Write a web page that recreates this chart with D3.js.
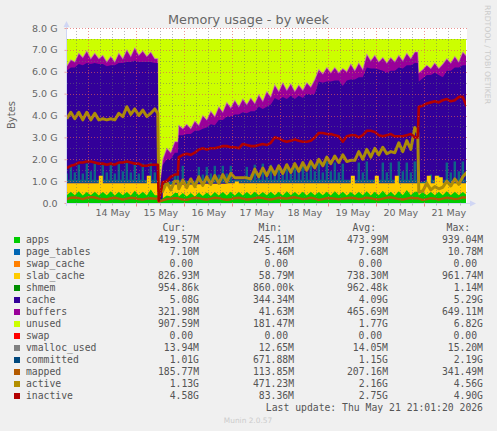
<!DOCTYPE html>
<html><head><meta charset="utf-8">
<script src="https://cdn.jsdelivr.net/npm/d3@7/dist/d3.min.js"></script>
<style>html,body{margin:0;padding:0;background:#f0f0f0}svg{display:block}</style></head>
<body><svg id="c" width="497" height="431"></svg>
<script>
// Sampled every two hours in GiB, plus one extra sample just before each sudden change
const sampleHours=[0,2,4,6,8,10,12,14,16,18,
20,22,24,26,28,30,32,34,36,38,
40,42,44,45.5,46,48,50,52,54,55.5,56,58,
60,62,64,66,68,70,72,74,76,78,
80,82,84,86,88,90,92,94,96,98,
100,102,104,106,108,110,112,114,116,118,
120,122,124,126,128,130,132,134,136,138,
140,142,144,146,148,150,152,154,156,158,
160,162,164,166,168,170,172,174,175.5,176,178,
180,182,184,186,188,190,192,194,196,198,200];
const apps=[.36,.52,.36,.54,.34,.50,.36,.52,.34,.50,
.36,.54,.34,.52,.36,.50,.34,.56,.36,.52,
.34,.62,.36,.36,.08,.22,.34,.30,.46,.46,.30,.46,
.30,.46,.30,.48,.32,.48,.32,.50,.34,.50,
.34,.52,.34,.52,.34,.50,.36,.52,.36,.50,
.36,.52,.36,.52,.34,.54,.36,.50,.36,.52,
.34,.52,.36,.50,.36,.52,.34,.54,.36,.52,
.34,.50,.36,.52,.36,.54,.34,.52,.36,.56,
.36,.52,.34,.54,.36,.60,.36,.52,.52,.36,.50,
.36,.52,.36,.52,.36,.54,.36,.52,.36,.50,.36];
const slabCache=[.54,.38,.54,.36,.56,.40,.54,.38,.91,.40,
.54,.36,.56,.38,.54,.40,.56,.34,.54,.38,
.91,.28,.54,.54,.04,.60,.50,.55,.39,.39,.55,.39,
.55,.39,.56,.38,.56,.40,.56,.38,.54,.38,
.56,.38,.64,.38,.56,.40,.54,.38,.54,.40,
.54,.38,.54,.38,.56,.36,.54,.40,.54,.38,
.56,.38,.54,.40,.54,.38,.56,.36,.54,.38,
.56,.75,.54,.38,.54,.36,.56,.73,.54,.34,
.54,.38,.91,.36,.54,.30,.54,.38,.38,.54,.40,
.89,.38,.89,.66,.54,.36,.54,.38,.54,.40,.54];
const cache=[5.15,5.30,5.30,5.45,5.40,5.50,5.45,5.50,5.10,5.45,
5.35,5.40,5.40,5.50,5.50,5.55,5.55,5.60,5.55,5.55,
5.20,5.55,5.50,5.50,.13,.93,1.16,1.15,1.45,1.45,2.25,2.25,
2.30,2.30,2.44,2.44,2.52,2.57,2.72,2.67,2.92,2.92,
3.05,3.05,3.07,3.15,3.25,3.20,3.30,3.30,3.50,3.40,
3.50,3.60,3.90,3.80,3.95,3.85,4.00,3.85,4.00,3.90,
4.10,4.05,4.10,4.65,4.60,4.65,4.65,4.70,4.70,4.45,
4.70,4.40,4.75,4.85,4.85,5.30,5.25,4.90,5.20,5.15,
5.05,5.15,4.80,5.30,5.25,5.40,5.40,5.50,5.50,4.65,4.80,
4.60,4.95,4.70,4.67,4.85,5.15,5.15,5.30,5.30,5.40,5.40];
const buffers=[.20,.35,.25,.50,.35,.55,.25,.45,.25,.40,
.20,.40,.15,.45,.20,.55,.25,.60,.30,.50,
.25,.45,.20,.20,.05,.25,.50,.30,.50,.50,.45,.30,
.45,.25,.45,.25,.60,.35,.60,.40,.60,.35,
.65,.40,.65,.35,.60,.40,.60,.35,.55,.35,
.70,.35,.60,.40,.65,.40,.55,.35,.50,.35,
.50,.35,.65,.55,.40,.65,.40,.60,.35,.80,
.40,.70,.40,.65,.35,.60,.35,.60,.35,.60,
.45,.60,.40,.55,.35,.55,.30,.50,.50,.40,.40,
.45,.30,.45,.30,.60,.55,.35,.50,.25,.60,.40];
const unused=[1.25,.95,1.05,.65,.85,.55,.90,.65,.90,.75,
1.05,.80,1.05,.65,.90,.50,.80,.40,.75,.55,
.80,.60,.90,.90,7.20,5.50,5.00,5.20,4.70,4.70,3.95,4.10,
3.90,4.10,3.75,3.95,3.50,3.70,3.30,3.55,3.10,3.35,
2.90,3.15,2.80,3.10,2.75,3.00,2.70,2.95,2.55,2.85,
2.40,2.65,2.10,2.40,2.00,2.35,2.05,2.40,2.10,2.35,
2.00,2.20,1.85,1.40,1.60,1.30,1.55,1.30,1.55,1.35,
1.50,1.15,1.45,1.10,1.40,.70,1.00,.75,1.05,.85,
1.10,.85,1.05,.75,1.00,.65,.90,.60,.60,1.55,1.40,
1.20,1.35,1.10,1.35,1.15,.90,1.10,.80,1.05,.60,.80];
const committed=[1.35,1.7,1.4,1.75,1.35,1.8,1.45,1.8,.98,1.75,
1.4,1.8,1.35,1.8,1.45,1.85,1.4,1.85,1.35,1.8,
.98,1.85,1.4,1.0,.7,.75,.9,.9,1.35,1.35,.95,1.7,
.95,.95,.95,1.65,1.3,1.65,1.35,1.7,1.3,1.7,
1.35,1.7,1.0,1.0,1.0,1.65,1.3,1.75,1.35,1.8,
1.4,1.75,1.35,1.75,1.4,1.75,1.35,1.8,1.45,1.8,
1.4,1.85,1.45,1.85,1.4,1.9,1.45,1.85,1.4,1.8,
1.0,1.0,1.0,1.85,1.4,1.9,1.0,1.0,1.0,1.85,
1.4,1.85,1.0,1.9,1.45,1.85,1.4,1.9,1.9,.85,.9,
.98,1.3,.98,1.25,1.0,1.85,1.4,1.9,1.45,1.9,1.4];
const mapped=[.18,.24,.25,.22,.18,.24,.27,.25,.20,.19,
.16,.22,.24,.20,.16,.20,.24,.22,.18,.16,
.20,.22,.20,.20,.05,.12,.18,.20,.22,.22,.20,.16,
.15,.20,.24,.22,.18,.16,.20,.24,.22,.18,
.15,.18,.22,.24,.20,.16,.18,.22,.25,.22,
.18,.16,.20,.24,.22,.20,.24,.26,.22,.18,
.20,.24,.20,.14,.18,.22,.22,.20,.17,.20,
.22,.24,.22,.18,.20,.24,.22,.18,.16,.20,
.24,.26,.22,.18,.16,.20,.24,.22,.22,.20,.14,
.18,.22,.20,.16,.20,.24,.22,.18,.20,.26,.24];
const active=[3.85,4.15,3.85,4.15,3.80,4.15,3.80,4.10,3.80,3.85,
3.80,3.85,3.80,4.10,3.95,4.40,4.05,4.30,4.00,4.25,
3.95,4.10,4.30,4.10,.50,.55,.95,.60,1.00,1.00,.65,1.05,
.70,1.10,.75,1.20,.80,1.20,.85,1.25,.90,1.30,
.95,1.35,1.15,1.15,1.15,1.15,1.10,1.55,1.20,1.60,
1.25,1.65,1.30,1.70,1.35,1.75,1.40,1.80,1.45,1.85,
1.50,1.90,1.60,2.00,1.70,2.10,1.80,2.15,1.85,2.20,
1.90,1.95,1.95,2.35,2.00,2.45,2.10,2.50,2.20,2.55,
2.25,2.35,2.30,2.75,2.35,2.85,2.45,3.45,3.20,.50,.55,
.90,.60,.75,.65,.72,1.00,.78,1.10,.85,1.20,1.40];
const inactive=[1.60,1.70,1.75,1.85,1.85,1.90,1.90,1.85,1.80,1.80,
1.75,1.80,1.75,1.85,1.85,1.90,1.85,1.80,1.80,1.70,
1.70,1.75,1.75,1.75,.10,.95,1.00,1.20,1.30,1.30,2.10,2.20,
2.25,2.20,2.30,2.45,2.50,2.45,2.50,2.50,2.55,2.60,
2.60,2.55,2.55,2.50,2.70,2.65,2.60,2.60,2.65,2.70,
2.65,2.75,3.00,2.95,2.85,2.80,2.85,2.90,2.85,2.80,
2.80,2.85,3.00,3.20,3.20,3.15,3.15,3.10,3.05,2.80,
3.05,3.10,3.10,3.00,3.10,3.30,3.30,3.25,3.10,3.05,
3.10,3.15,3.05,3.05,3.05,3.10,3.15,3.00,3.00,4.40,4.45,
4.55,4.60,4.65,4.60,4.70,4.75,4.65,4.70,4.85,4.85,4.40];

const legendNames=["apps","page_tables","swap_cache","slab_cache","shmem","cache","buffers","unused","swap","vmalloc_used","committed","mapped","active","inactive"];
const legendColors=["#00cc00","#0066b3","#ff8000","#ffcc00","#008f00","#330099","#990099","#ccff00","#ff0000","#808080","#00487d","#b35a00","#b38f00","#b30000"];
const curValues=["419.57M","7.10M","0.00","826.93M","954.86k","5.08G","321.98M","907.59M","0.00","13.94M","1.01G","185.77M","1.13G","4.58G"];
const minValues=["245.11M","5.46M","0.00","58.79M","860.00k","344.34M","41.63M","181.47M","0.00","12.65M","671.88M","113.85M","471.23M","83.36M"];
const avgValues=["473.99M","7.68M","0.00","738.30M","962.48k","4.09G","465.69M","1.77G","0.00","14.05M","1.15G","207.16M","2.16G","2.75G"];
const maxValues=["939.04M","10.78M","0.00","961.74M","1.14M","5.29G","649.11M","6.82G","0.00","15.20M","2.19G","341.49M","4.56G","4.90G"];
const columnHeads=["Cur:","Min:","Avg:","Max:"];
const yMajor=[0,1,2,3,4,5,6,7,8];
const yMinor=[.5,1.5,2.5,3.5,4.5,5.5,6.5,7.5];
const dayLabels=["14 May","15 May","16 May","17 May","18 May","19 May","20 May","21 May"];

const svg=d3.select("#c");
const sans="'DejaVu Sans',sans-serif", mono="'DejaVu Sans Mono',monospace";
const L=67,R=466,T=28,B=203;
const t0=Date.UTC(2026,4,13,13,15),t1=Date.UTC(2026,4,21,21,15);
const x=d3.scaleUtc().domain([t0,t1]).range([66.8,466.8]);
const y=d3.scaleLinear().domain([0,8]).range([B,T]);
const HOUR=36e5;
const times=sampleHours.map(h=>new Date(t0+h*HOUR));

svg.append("rect").attr("x",L).attr("y",T).attr("width",R-L+1).attr("height",B-T).attr("fill","#fff");
svg.append("clipPath").attr("id","pl").append("rect").attr("x",L).attr("y",T).attr("width",R-L).attr("height",B-T);
const g=svg.append("g").attr("clip-path","url(#pl)");

const line=d3.line().x((d,i)=>x(times[i])).y(d=>y(d));
function drawCommitted(){
  const c="#0e6486";
  // low running band
  g.append("path").datum(committed).attr("fill","none").attr("stroke",c).attr("stroke-width",3)
    .attr("d",d3.line().x((d,i)=>x(times[i])).y(d=>y(Math.min(d,1))));
  // narrow spikes rising from it
  g.selectAll(null).data(committed.map((v,i)=>({v,i})).filter(d=>d.v>1)).enter().append("line")
    .attr("x1",d=>x(times[d.i])).attr("x2",d=>x(times[d.i]))
    .attr("y1",y(1)).attr("y2",d=>y(d.v)).attr("stroke",c).attr("stroke-width",2.4);
}

// stacked layers, painted top-down so each boundary keeps its own curve
const rows=times.map((d,i)=>({apps:apps[i],slab_cache:slabCache[i],cache:cache[i],buffers:buffers[i],unused:unused[i]}));
const stack=d3.stack().keys(["apps","slab_cache","cache","buffers","unused"])(rows);
const colorOf=n=>legendColors[legendNames.indexOf(n)];
stack.slice().reverse().forEach(layer=>{
  const area=d3.area().x((d,i)=>x(times[i])).y0(y(0)).y1(d=>y(d[1]))
    .curve(layer.key==="slab_cache"?d3.curveStepAfter:d3.curveLinear);
  g.append("path").datum(layer).attr("d",area).attr("fill",colorOf(layer.key));
  if(layer.key==="buffers"){
    g.append("path").datum(layer).attr("fill","none").attr("stroke","rgba(205,120,205,.6)").attr("stroke-width",1.1)
      .attr("d",d3.line().x((d,i)=>x(times[i])).y(d=>y(d[1])));
  }
  if(layer.key==="cache") drawCommitted();
});
[[mapped,colorOf("mapped"),2.4],[active,"#ac8c08",3],[inactive,colorOf("inactive"),2.6]]
 .forEach(([v,c,w])=>g.append("path").datum(v).attr("d",line).attr("fill","none").attr("stroke",c).attr("stroke-width",w).attr("stroke-linejoin","round"));

// grid
const xMinorTicks=d3.utcHour.range(new Date(t0),new Date(t1),1).filter(d=>d.getUTCHours()%6===0&&d.getUTCHours()%24!==0);
const xMajorTicks=d3.utcDay.range(new Date(t0),new Date(t1));
const gridG=svg.append("g").attr("shape-rendering","crispEdges");
const hGrid=(vals,c)=>gridG.selectAll(null).data(vals).enter().append("line").attr("x1",L).attr("x2",R+1).attr("y1",d=>Math.round(y(d))+.5).attr("y2",d=>Math.round(y(d))+.5).attr("stroke",c).attr("stroke-dasharray","1 2");
const vGrid=(vals,c)=>gridG.selectAll(null).data(vals).enter().append("line").attr("y1",T).attr("y2",B).attr("x1",d=>Math.round(x(d))+.5).attr("x2",d=>Math.round(x(d))+.5).attr("stroke",c).attr("stroke-dasharray","1 2");
hGrid(yMinor,"rgba(110,110,110,.5)");vGrid(xMinorTicks,"rgba(110,110,110,.5)");
hGrid(yMajor,"rgba(225,90,90,.65)");vGrid(xMajorTicks,"rgba(225,90,90,.65)");

// axes
const axisCol="#d0d6f4", txt="#666";
const yAxis=d3.axisLeft(y).tickValues(yMajor).tickSize(2).tickPadding(7).tickFormat(d=>d===0?"0.0":d.toFixed(1)+" G");
const ya=svg.append("g").attr("transform","translate(66.5,0)").call(yAxis);
ya.selectAll("text").attr("font-family",sans).attr("font-size",9.5).attr("fill",txt);
ya.selectAll("line").attr("stroke","#e9a0a0");ya.select(".domain").attr("stroke",axisCol).attr("d",`M0,${B+3}V${T-6}`);
const noon=dayLabels.map((_,i)=>new Date(Date.UTC(2026,4,14+i,12)));
const xAxis=d3.axisBottom(x).tickValues(noon).tickSize(0).tickPadding(6).tickFormat((d,i)=>dayLabels[i]);
const xa=svg.append("g").attr("transform",`translate(0,${B+.5})`).call(xAxis);
xa.selectAll("text").attr("font-family",sans).attr("font-size",9.5).attr("fill",txt);
xa.select(".domain").attr("stroke",axisCol).attr("d",`M${L-1},0H${R+4}`);
const xt=svg.append("g").attr("transform",`translate(0,${B+.5})`);
xt.selectAll(null).data(xMajorTicks).enter().append("line").attr("x1",d=>Math.round(x(d))+.5).attr("x2",d=>Math.round(x(d))+.5).attr("y1",0).attr("y2",3).attr("stroke","#e88");
xt.selectAll(null).data(xMinorTicks).enter().append("line").attr("x1",d=>Math.round(x(d))+.5).attr("x2",d=>Math.round(x(d))+.5).attr("y1",0).attr("y2",2).attr("stroke","#bbb");
svg.append("path").attr("d",`M${L-3.5},27L${L-.5},21L${L+2.5},27Z`).attr("fill",axisCol);
svg.append("path").attr("d",`M${R+4},${B-2.5}L${R+10},${B+.5}L${R+4},${B+3.5}Z`).attr("fill",axisCol);

// texts
const text=(x0,y0,s,o={})=>svg.append("text").attr("x",x0).attr("y",y0).text(s).attr("font-family",o.f||sans).attr("font-size",o.s||9.5).attr("fill",o.c||"#555").attr("text-anchor",o.a||"start");
text(248.5,24,"Memory usage - by week",{s:12.8,a:"middle",c:"#666"});
text(0,0,"Bytes",{s:10,a:"middle",c:"#666"}).attr("transform","translate(14.5,115) rotate(-90)");
text(0,0,"RRDTOOL / TOBI OETIKER",{s:7.7,c:"#ccc"}).attr("transform","translate(485,5) rotate(90)");
const colRight=[199,294,388,483], headRight=[186,282,376,470], ms=9.75;
columnHeads.forEach((h,i)=>text(headRight[i],231,h,{f:mono,s:ms,a:"end"}));
legendNames.forEach((n,i)=>{
  const yy=243+i*12;
  svg.append("rect").attr("x",14).attr("y",yy-6).attr("width",6).attr("height",6).attr("fill",legendColors[i]);
  text(26,yy,n,{f:mono,s:ms});
  [curValues,minValues,avgValues,maxValues].forEach((arr,c)=>{
    const v=arr[i];
    text(colRight[c]-(v==="0.00"?6:0),yy,v,{f:mono,s:ms,a:"end"});
  });
});
text(483,411,"Last update: Thu May 21 21:01:20 2026",{f:mono,s:ms,a:"end"});
text(248,423,"Munin 2.0.57",{s:7.4,a:"middle",c:"#ccc"});
</script></body></html>
